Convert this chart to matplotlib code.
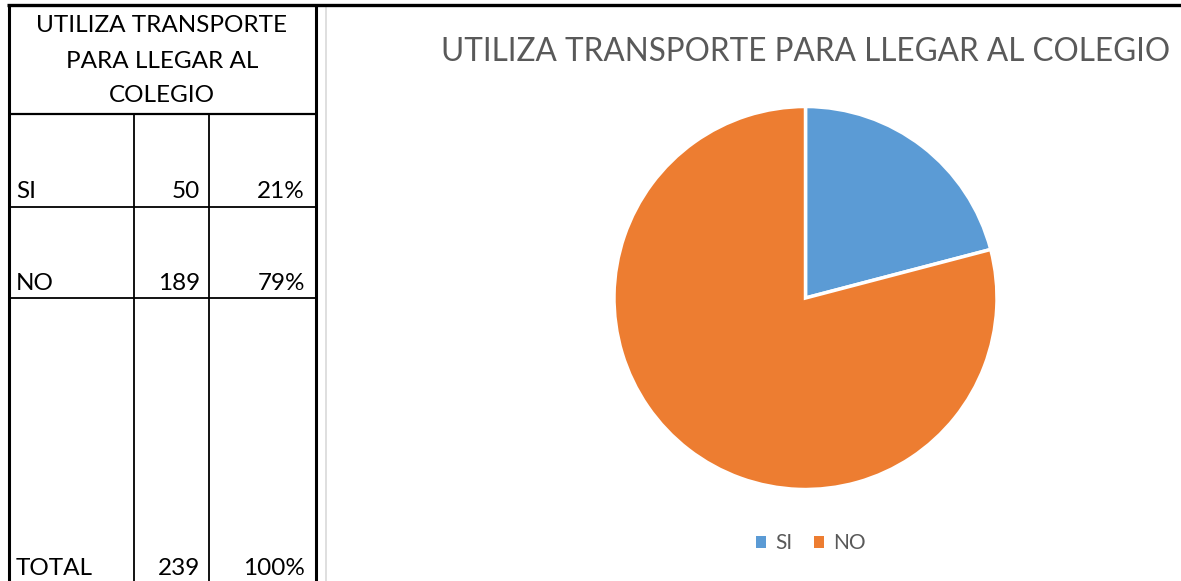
import matplotlib
matplotlib.use("Agg")
import matplotlib.pyplot as plt
from matplotlib.patches import Patch

# ---- data ----
categories = ["SI", "NO"]
counts = [50, 189]
percent_labels = ["21%", "79%"]
total_label = "TOTAL"
total_count = 239
total_pct = "100%"
title = "UTILIZA TRANSPORTE PARA LLEGAR AL COLEGIO"
table_title = ["UTILIZA TRANSPORTE", "PARA LLEGAR AL", "COLEGIO"]
colors = ["#5B9BD5", "#ED7D31"]

W, H = 1181, 581
FONT = "Lato"
fig = plt.figure(figsize=(W / 100, H / 100), dpi=100)
fig.patch.set_facecolor("white")

# background axes in pixel coordinates
bg = fig.add_axes([0, 0, 1, 1])
bg.set_xlim(0, W)
bg.set_ylim(H, 0)
bg.axis("off")

def hline(y, x0, x1, lw, color="black"):
    bg.plot([x0, x1], [y, y], color=color, lw=lw, solid_capstyle="butt")

def vline(x, y0, y1, lw, color="black"):
    bg.plot([x, x], [y0, y1], color=color, lw=lw, solid_capstyle="butt")

# chart area light border
vline(325.5, 6, H, 1.2, "#D9D9D9")

# top thick line
hline(4.5, 7, W, 2.4)
# outer table borders
vline(8.5, 4, H, 2.2)
vline(316, 4, H, 2.2)
# header bottom
hline(113.5, 8, 316, 1.6)
# row lines
hline(206.5, 8, 316, 1.3)
hline(297.5, 8, 316, 1.3)
# column lines
vline(133.5, 113, H, 1.3)
vline(208.5, 113, H, 1.3)

# table header text
for i, line in enumerate(table_title):
    bg.text(162, 26 + 35 * i, line, ha="center", va="center",
            fontsize=17.5, family=FONT, color="black")

# table rows
row_baselines = [198, 290]
for cat, cnt, pct, yb in zip(categories, counts, percent_labels, row_baselines):
    bg.text(16, yb, cat, ha="left", va="baseline", fontsize=17.5, family=FONT)
    bg.text(200, yb, str(cnt), ha="right", va="baseline", fontsize=17.5, family=FONT)
    bg.text(305, yb, pct, ha="right", va="baseline", fontsize=17.5, family=FONT)
bg.text(16, 575, total_label, ha="left", va="baseline", fontsize=17.5, family=FONT)
bg.text(200, 575, str(total_count), ha="right", va="baseline", fontsize=17.5, family=FONT)
bg.text(305, 575, total_pct, ha="right", va="baseline", fontsize=17.5, family=FONT)

# chart title
bg.text(806, 52, title, ha="center", va="center", fontsize=22.7,
        family=FONT, color="#595959")

# pie axes
cx, cy, r = 805.5, 298, 191.5
pax = fig.add_axes([(cx - r) / W, (H - cy - r) / H, 2 * r / W, 2 * r / H])
pax.pie(counts, colors=colors, startangle=90, counterclock=False,
        wedgeprops=dict(edgecolor="white", linewidth=2.5), radius=1)
pax.set_xlim(-1, 1)
pax.set_ylim(-1, 1)
pax.set_aspect("auto")
pax.axis("off")

# legend
handles = [Patch(facecolor=c, edgecolor="none") for c in colors]
leg = fig.legend(handles, categories, loc="center", bbox_to_anchor=(811 / W, 1 - 543 / H),
                 ncol=2, frameon=False, handlelength=0.5, handleheight=0.5,
                 handletextpad=0.45, columnspacing=1.0,
                 prop=dict(family=FONT, size=15))
for t in leg.get_texts():
    t.set_color("#595959")

fig.savefig("out.png", dpi=100, facecolor="white")
